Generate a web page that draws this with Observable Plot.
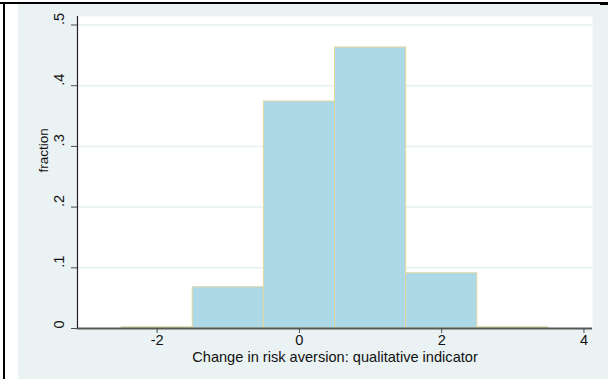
<!DOCTYPE html>
<html>
<head>
<meta charset="utf-8">
<script src="https://cdn.jsdelivr.net/npm/d3@7"></script>
<script src="https://cdn.jsdelivr.net/npm/@observablehq/plot@0.6"></script>
<style>
  html, body { margin: 0; padding: 0; background: #ffffff; }
  #wrap { position: relative; width: 614px; height: 379px; overflow: hidden; background: #ffffff; }
  #bg { position: absolute; left: 18px; top: 3px; width: 590px; height: 376px; background: #eaf2f3; }
  #topline { position: absolute; left: 0; top: 2px; width: 604px; height: 2px; background: #000; }
  #topline2 { position: absolute; left: 600px; top: 2px; width: 8px; height: 3px; background: #000; }
  #leftline { position: absolute; left: 3px; top: 2px; width: 2px; height: 377px; background: #000; }
  #chart { position: absolute; left: 0; top: 0; }
</style>
</head>
<body>
<div id="wrap">
  <div id="bg"></div>
  <div id="topline"></div>
  <div id="topline2"></div>
  <div id="leftline"></div>
  <div id="chart"></div>
</div>
<script>
// Data (bin centers, width 1)
const binCenters = [-2, -1, 0, 1, 2, 3];
const fractions = [0.002, 0.068, 0.374, 0.463, 0.091, 0.002];
const xTicks = [-2, 0, 2, 4];
const yTicks = [0, 0.1, 0.2, 0.3, 0.4, 0.5];
const yTickLabels = ["0", ".1", ".2", ".3", ".4", ".5"];
const xTitle = "Change in risk aversion: qualitative indicator";
const yTitle = "fraction";

const bins = binCenters.map((c, i) => ({center: c, value: fractions[i]}));
const xDomain = [-3.12, 4.12];
const yDomain = [0, 0.514];
const axisColor = "#4a4a4a";
const fs = 14.6;

const chart = Plot.plot({
  width: 614,
  height: 379,
  marginLeft: 77,
  marginRight: 22,
  marginTop: 16,
  marginBottom: 51,
  style: {background: "transparent", fontFamily: "'Liberation Sans', Arial, sans-serif", fontSize: fs + "px", color: "#111"},
  x: {domain: xDomain},
  y: {domain: yDomain},
  marks: [
    Plot.frame({fill: "#ffffff", stroke: null}),
    Plot.gridY(yTicks, {stroke: "#e6eff1", strokeOpacity: 1, strokeWidth: 1.5}),
    Plot.rectY(bins, {
      x1: d => d.center - 0.5,
      x2: d => d.center + 0.5,
      y: "value",
      fill: "#add8e6",
      stroke: "#e2d8a2",
      strokeWidth: 1,
      insetLeft: 0, insetRight: 0
    }),
    Plot.ruleY([yDomain[0]], {stroke: "#555a55", strokeWidth: 2}),
    Plot.ruleX([xDomain[0]], {stroke: "#222", strokeWidth: 1.2}),
    Plot.axisX({ticks: xTicks, tickFormat: d => String(d), tickSize: 5, tickPadding: 1, stroke: axisColor, fill: "#111", label: null, fontSize: fs}),
    Plot.text([xTitle], {frameAnchor: "bottom", lineAnchor: "middle", dy: 29, fill: "#111", fontSize: fs}),
    Plot.axisY({ticks: yTicks, tickFormat: () => "", tickSize: 6, stroke: axisColor, label: null}),
    Plot.text(yTicks, {y: d => d, text: (d, i) => yTickLabels[i], frameAnchor: "left", dx: -18, rotate: -90, fill: "#111", fontSize: fs}),
    Plot.text([yTitle], {frameAnchor: "left", dx: -34, rotate: -90, fill: "#111", fontSize: 13.5})
  ]
});
document.getElementById("chart").appendChild(chart);
</script>
</body>
</html>
